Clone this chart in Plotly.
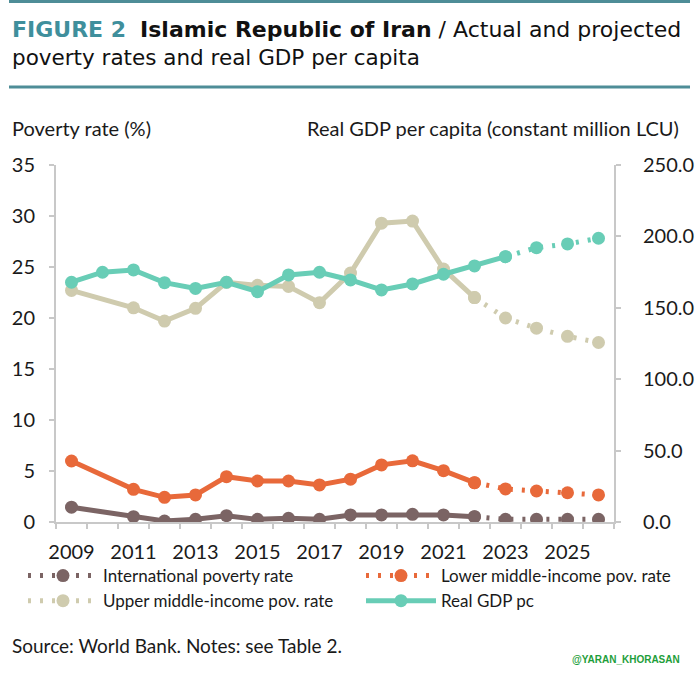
import plotly.graph_objects as go

years = list(range(2009, 2027))
intl_pov = [1.45, None, 0.52, 0.1, 0.26, 0.62, 0.26, 0.36, 0.26, 0.69, 0.69, 0.75, 0.69, 0.52, 0.26, 0.26, 0.26, 0.26]
lower_pov = [5.98, None, 3.2, 2.42, 2.65, 4.44, 4.02, 4.02, 3.63, 4.2, 5.6, 6.0, 5.03, 3.86, 3.24, 3.04, 2.87, 2.65]
upper_pov = [22.7, None, 21.0, 19.7, 20.95, 23.5, 23.2, 23.1, 21.5, 24.4, 29.3, 29.5, 24.8, 22.0, 20.0, 19.0, 18.2, 17.6]
gdp_pc = [167.9, 174.9, 176.5, 167.6, 163.6, 167.9, 161.3, 173.0, 174.9, 169.5, 162.5, 166.7, 173.5, 179.3, 185.8, 192.1, 194.7, 198.7]
pov_last_actual = 2022
gdp_last_actual = 2023
x_tick_years = [2009, 2011, 2013, 2015, 2017, 2019, 2021, 2023, 2025]

names = {
    "intl": "International poverty rate",
    "lower": "Lower middle-income pov. rate",
    "upper": "Upper middle-income pov. rate",
    "gdp": "Real GDP pc",
}
colors = {"intl": "#7B6464", "lower": "#E8693A", "upper": "#CFCBAE", "gdp": "#68CDB6"}
legend_of = {"intl": "legend", "upper": "legend", "lower": "legend2", "gdp": "legend2"}

FONT = "Lato"
W, H = 700, 685
L, R, T, B = 56, 614, 165, 522  # plot area in pixels


def px_x(px):
    return (px - L) / (R - L)


def px_y(py):
    return (B - py) / (B - T)


fig = go.Figure()

DOT = "3px,9px"


def split(vals, last):
    act = [v if y <= last else None for y, v in zip(years, vals)]
    proj = [v if y >= last else None for y, v in zip(years, vals)]
    return act, proj


for key, vals in [("intl", intl_pov), ("lower", lower_pov), ("upper", upper_pov)]:
    act, proj = split(vals, pov_last_actual)
    fig.add_trace(go.Scatter(x=years, y=act, mode="lines+markers", connectgaps=True,
                             line=dict(color=colors[key], width=5),
                             marker=dict(color=colors[key], size=13),
                             showlegend=False, name=names[key], yaxis="y"))
    fig.add_trace(go.Scatter(x=years, y=proj, mode="lines+markers",
                             line=dict(color=colors[key], width=5, dash=DOT),
                             marker=dict(color=colors[key], size=13),
                             showlegend=True, name=names[key], yaxis="y", legend=legend_of[key]))

act, proj = split(gdp_pc, gdp_last_actual)
fig.add_trace(go.Scatter(x=years, y=act, mode="lines+markers",
                         line=dict(color=colors["gdp"], width=5),
                         marker=dict(color=colors["gdp"], size=13),
                         showlegend=True, name=names["gdp"], yaxis="y2", legend=legend_of["gdp"]))
fig.add_trace(go.Scatter(x=years, y=proj, mode="lines+markers",
                         line=dict(color=colors["gdp"], width=5, dash=DOT),
                         marker=dict(color=colors["gdp"], size=13),
                         showlegend=False, name=names["gdp"], yaxis="y2"))

axis_gray = "#C8C8C8"
legend_common = dict(orientation="v", xref="container", yref="container",
                     xanchor="left", yanchor="top", itemwidth=70, font=dict(size=17),
                     traceorder="normal", bgcolor="rgba(0,0,0,0)")
fig.update_layout(
    width=W, height=H,
    margin=dict(l=L, r=W - R, t=T, b=H - B, autoexpand=False),
    paper_bgcolor="white", plot_bgcolor="white",
    font=dict(family=FONT, size=19, color="#1a1a1a"),
    xaxis=dict(range=[2008.5, 2026.5], tickvals=x_tick_years, ticktext=[str(y) for y in x_tick_years],
               ticks="", showgrid=False, zeroline=False,
               showline=True, linecolor=axis_gray, linewidth=2,
               ticklabelstandoff=11, automargin=False,
               minor=dict(tick0=2008.5, dtick=1, ticks="outside", ticklen=5, tickcolor=axis_gray, tickwidth=2, showgrid=False),
               tickfont=dict(size=20)),
    yaxis=dict(range=[0, 35], dtick=5, showgrid=False, zeroline=False,
               showline=True, linecolor=axis_gray, linewidth=2,
               ticks="outside", ticklen=5, tickcolor=axis_gray, tickwidth=2, automargin=False,
               ticklabelstandoff=10, tickfont=dict(size=20)),
    yaxis2=dict(range=[0, 250], dtick=50, tickformat=".1f", overlaying="y", side="right",
                showgrid=False, zeroline=False, automargin=False,
                showline=True, linecolor=axis_gray, linewidth=2,
                ticks="outside", ticklen=5, tickcolor=axis_gray, tickwidth=2,
                ticklabelstandoff=18, tickfont=dict(size=20)),
    legend=dict(x=23 / W, y=1 - 558 / H, **legend_common),
    legend2=dict(x=361 / W, y=1 - 558 / H, **legend_common),
    showlegend=True,
)

# rules
for py in [1.5, 87]:
    fig.add_shape(type="line", xref="paper", yref="paper", x0=px_x(9), x1=px_x(690), y0=px_y(py), y1=px_y(py),
                  line=dict(color="#4E8D97", width=3))

ann = []
ann.append(dict(x=px_x(10), y=px_y(29), xanchor="left", yanchor="middle",
                text="<span style='color:#3F8F9C'><b>FIGURE 2</b></span>  <b>Islamic Republic of Iran</b> / Actual and projected",
                font=dict(family="DejaVu Sans", size=22, color="#111111")))
ann.append(dict(x=px_x(10), y=px_y(58), xanchor="left", yanchor="middle",
                text="poverty rates and real GDP per capita",
                font=dict(family="DejaVu Sans", size=21.5, color="#111111")))
ann.append(dict(x=px_x(10), y=px_y(128), xanchor="left", yanchor="middle",
                text="Poverty rate (%)", font=dict(size=20)))
ann.append(dict(x=px_x(681), y=px_y(128), xanchor="right", yanchor="middle",
                text="Real GDP per capita (constant million LCU)", font=dict(size=20)))
ann.append(dict(x=px_x(10), y=px_y(645), xanchor="left", yanchor="middle",
                text="Source: World Bank. Notes: see Table 2.", font=dict(size=19)))
ann.append(dict(x=px_x(626), y=px_y(659), xanchor="center", yanchor="middle",
                text="<b>@YARAN_KHORASAN</b>", font=dict(family="Liberation Sans", size=10, color="#1E9E3A")))
for a in ann:
    a.update(xref="paper", yref="paper", showarrow=False)
    fig.add_annotation(**a)

fig.write_html("out.html", post_script="document.body.style.margin='0px';",
               config={"displayModeBar": False})
